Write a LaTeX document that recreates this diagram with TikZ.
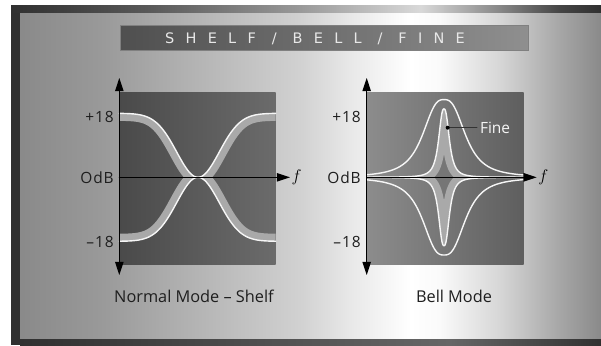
\documentclass[tikz,border=0pt]{standalone}
\usepackage{fontspec}
\setmainfont{Open Sans}
\newfontfamily\titlefont[LetterSpace=78]{DejaVu Sans}
\newfontfamily\tickfont[LetterSpace=6]{Open Sans}
\usetikzlibrary{arrows.meta}

\definecolor{framedark}{HTML}{303030}
\definecolor{bandgray}{HTML}{A9A9A9}
\definecolor{finefill}{HTML}{767676}
\definecolor{curvewhite}{HTML}{F6F6F6}
\definecolor{labelcol}{HTML}{1E1E1E}
\definecolor{titletext}{HTML}{E8E8E8}

% background shadings (only 25bp..75bp is used)
\pgfdeclarehorizontalshading{panel}{100bp}{color(0bp)=(white!54!black); color(25bp)=(white!54!black);
  color(31.9bp)=(white!60!black); color(40.5bp)=(white!71!black); color(49.1bp)=(white!82!black);
  color(53.4bp)=(white!91!black); color(58.6bp)=(white); color(61.1bp)=(white!98!black);
  color(66.3bp)=(white!84!black); color(71.5bp)=(white!65!black); color(75bp)=(white!54!black);
  color(100bp)=(white!54!black)}
\pgfdeclarehorizontalshading{topband}{100bp}{color(0bp)=(framedark); color(25bp)=(framedark);
  color(36.8bp)=(white!35!black); color(49.5bp)=(white!60!black); color(59.7bp)=(white!85!black);
  color(66.4bp)=(white!53!black); color(71.5bp)=(white!27!black); color(75bp)=(framedark);
  color(100bp)=(framedark)}
\pgfdeclarehorizontalshading{botband}{100bp}{color(0bp)=(framedark); color(25bp)=(framedark);
  color(49.1bp)=(white!33!black); color(62bp)=(white!40!black); color(75bp)=(framedark);
  color(100bp)=(framedark)}

\begin{document}
\begin{tikzpicture}[x=0.025cm,y=-0.025cm,line cap=round,
  declare function={shelf(\t)=64*(1-exp(0-((\t-198)/30)^2));
                    wide(\t)=77.7/(1+(abs(\t-444)/23+0.0001)^2.8);
                    fine(\t)=68.4/(1+(abs(\t-444)/5.9+0.0001)^2.6);},
  axisline/.style={line width=0.8pt,black},
  twoway/.style={{Triangle[length=3.3mm,width=2.1mm]}-{Triangle[length=3.3mm,width=2.1mm]}},
  oneway/.style={-{Triangle[length=3.3mm,width=2.1mm]}},
  shelfband/.style={line width=0.375cm,bandgray},
  whiteline/.style={line width=1pt,curvewhite},
  ticklab/.style={font=\tickfont\fontsize{11}{13}\selectfont,text=labelcol,anchor=east,inner sep=0pt},
  flab/.style={font=\large,anchor=mid west,inner sep=1pt},
  modelabel/.style={font=\fontsize{11.6}{13}\selectfont,text=labelcol}]
\useasboundingbox (0,0) rectangle (601,345);
\fill[white] (0,0) rectangle (601,345);
% frame
\shade[shading=topband] (11,5) rectangle (601,13);
\shade[shading=botband] (20,338) rectangle (601,345);
\fill[framedark] (11,13) rectangle (20,345);
\shade[shading=panel] (20,13) rectangle (601,338);
% title
\shade[left color=white!31!black,right color=white!56!black,draw=white!50!black,line width=0.3pt]
  (120,25.7) rectangle (528,50.7);
\node[text=titletext,font=\titlefont\fontsize{10.3}{12}\selectfont] (title) at (315,38.5) {SHELF / BELL / FINE};

% ---- shelf panel
\shade[left color=white!29!black,right color=white!42!black] (119.3,92.3) rectangle (275.7,264);
\begin{scope}
\clip (119.3,177.3) -- plot[domain=119.3:275.7,samples=120] (\x,{177.3-shelf(\x)}) -- (275.7,177.3) -- cycle;
\draw[shelfband] plot[domain=119.3:275.7,samples=120] (\x,{177.3-shelf(\x)});
\end{scope}
\begin{scope}
\clip (119.3,177.3) -- plot[domain=119.3:275.7,samples=120] (\x,{177.3+shelf(\x)}) -- (275.7,177.3) -- cycle;
\draw[shelfband] plot[domain=119.3:275.7,samples=120] (\x,{177.3+shelf(\x)});
\end{scope}
\draw[whiteline] plot[domain=119.3:275.7,samples=120] (\x,{177.3-shelf(\x)});
\draw[whiteline] plot[domain=119.3:275.7,samples=120] (\x,{177.3+shelf(\x)});
% axes
\coordinate (lbot) at (119.3,275);
\coordinate (ltop) at (119.3,78);
\coordinate (lorg) at (119.3,177.3);
\coordinate (lend) at (290,177.3);
\draw[axisline,twoway] (lbot) -- (ltop);
\draw[axisline,oneway] (lorg) -- (lend);
\node[flab] (lf) at (lend) {$f$};
\node[ticklab] (lplus) at (114,116.7) {+18};
\node[ticklab] (lzero) at (114,177.3) {OdB};
\node[ticklab] (lminus) at (114,241.7) {–18};
\node[modelabel] (shelfcap) at (194,296) {Normal Mode – Shelf};

% ---- bell panel
\shade[left color=white!55!black,middle color=white!51!black,right color=white!37!black]
  (366.7,92.3) rectangle (523.7,264);
\draw[whiteline] plot[domain=366.7:523.7,samples=200] (\x,{177.3-wide(\x)});
\draw[whiteline] plot[domain=366.7:523.7,samples=200] (\x,{177.3+wide(\x)});
\begin{scope}
\clip (366.7,177.3) -- plot[domain=366.7:523.7,samples=241] (\x,{177.3-fine(\x)}) -- (523.7,177.3) -- cycle;
\fill[finefill] (366.7,92.3) rectangle (523.7,177.3);
\draw[shelfband] plot[domain=366.7:523.7,samples=241] (\x,{177.3-fine(\x)});
\end{scope}
\begin{scope}
\clip (366.7,177.3) -- plot[domain=366.7:523.7,samples=241] (\x,{177.3+fine(\x)}) -- (523.7,177.3) -- cycle;
\fill[finefill] (366.7,177.3) rectangle (523.7,264);
\draw[shelfband] plot[domain=366.7:523.7,samples=241] (\x,{177.3+fine(\x)});
\end{scope}
\draw[whiteline] plot[domain=366.7:523.7,samples=241] (\x,{177.3-fine(\x)});
\draw[whiteline] plot[domain=366.7:523.7,samples=241] (\x,{177.3+fine(\x)});
% axes
\coordinate (rbot) at (366.7,275);
\coordinate (rtop) at (366.7,78);
\coordinate (rorg) at (366.7,177.3);
\coordinate (rend) at (536.7,177.3);
\draw[axisline,twoway] (rbot) -- (rtop);
\draw[axisline,oneway] (rorg) -- (rend);
\node[flab] (rf) at (rend) {$f$};
\node[ticklab] (rplus) at (361,116.7) {+18};
\node[ticklab] (rzero) at (361,177.3) {OdB};
\node[ticklab] (rminus) at (361,241.7) {–18};
% fine callout
\coordinate (finedot) at (447.7,127.7);
\node[font=\fontsize{11}{13}\selectfont,text=curvewhite,anchor=west,inner sep=2pt] (finetext) at (477,127.7) {Fine};
\draw[line width=0.7pt,white!20!black] (finedot) -- (finetext.west);
\fill[black] (finedot) circle (2);
\node[modelabel] (bellcap) at (454,296) {Bell Mode};
\end{tikzpicture}
\end{document}
